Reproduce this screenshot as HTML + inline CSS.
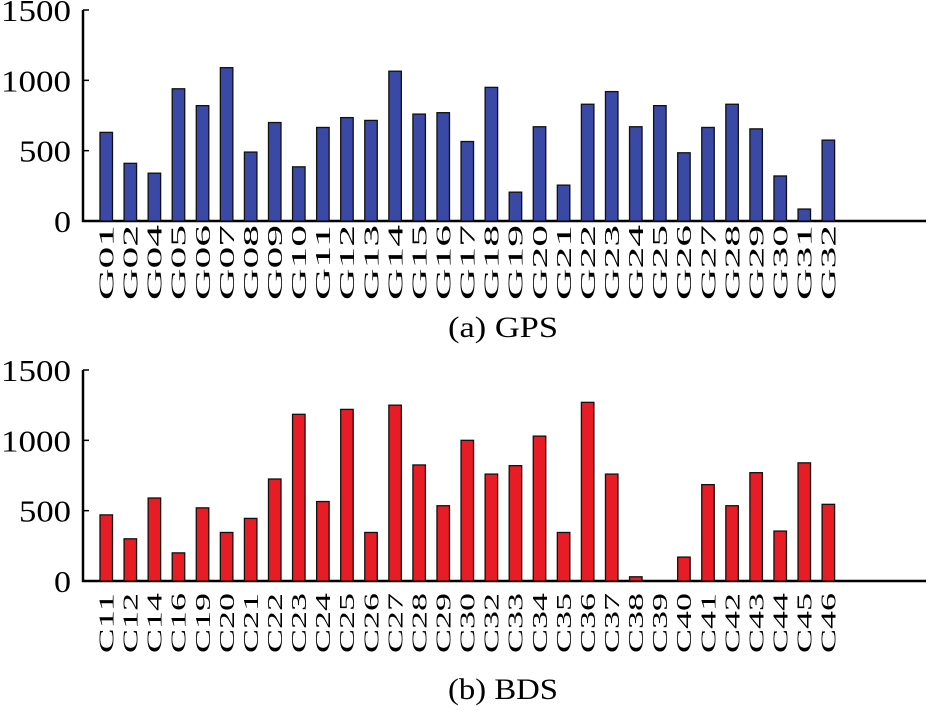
<!DOCTYPE html><html><head><style>body{margin:0;background:#fff}svg{display:block}text{font-family:"Liberation Serif",serif;fill:#000}</style></head><body>
<svg id="s" width="933" height="711" xmlns="http://www.w3.org/2000/svg"></svg>
<script>
var s=document.getElementById('s'),h='';
function chart(y0,labels,vals,fill,cap,capY,lStart,lLen){
 var k=211/1500;
 h+='<line x1="83" y1="'+(y0-211)+'" x2="83" y2="'+(y0+1)+'" stroke="#000" stroke-width="2.5"/>';
 h+='<line x1="82" y1="'+y0+'" x2="926" y2="'+y0+'" stroke="#000" stroke-width="2.5"/>';
 [0,500,1000,1500].forEach(function(v){var y=y0-v*k;var w=v==0?17:(v==500?52:70);h+='<line x1="83" y1="'+y+'" x2="89" y2="'+y+'" stroke="#000" stroke-width="1.5"/><text x="'+(71-w)+'" y="'+(y+11)+'" font-size="31" textLength="'+w+'" lengthAdjust="spacingAndGlyphs">'+v+'</text>';});
 for(var i=0;i<labels.length;i++){var x=100+i*24.07,v=vals[i],ht=v*k;
  if(v>0)h+='<rect x="'+x+'" y="'+(y0-ht)+'" width="12.5" height="'+ht+'" fill="'+fill+'" stroke="#111" stroke-width="1.3"/>';
  h+='<text transform="translate('+(x+13.5)+','+(y0+lStart+lLen)+') rotate(-90)" font-size="21" textLength="'+lLen+'" lengthAdjust="spacingAndGlyphs">'+labels[i]+'</text>';}
 h+='<text x="503" y="'+capY+'" font-size="30" text-anchor="middle" textLength="110" lengthAdjust="spacingAndGlyphs">'+cap+'</text>';
}
var g=['G01','G02','G04'];for(var i=5;i<=32;i++)g.push('G'+(i<10?'0':'')+i);
chart(221,g,[630,410,340,940,820,1090,490,700,385,665,735,715,1065,760,770,565,950,205,670,255,830,920,670,820,485,665,830,655,320,85,575],'#3a48a6','(a) GPS',337,4,75);
var c='C11 C12 C14 C16 C19 C20 C21 C22 C23 C24 C25 C26 C27 C28 C29 C30 C32 C33 C34 C35 C36 C37 C38 C39 C40 C41 C42 C43 C44 C45 C46'.split(' ');
chart(581,c,[470,300,590,200,520,345,445,725,1185,565,1220,345,1250,825,535,1000,760,820,1030,345,1270,760,30,0,170,685,535,770,355,840,545],'#e81c24','(b) BDS',699,12,60);
s.innerHTML=h;
</script></body></html>
